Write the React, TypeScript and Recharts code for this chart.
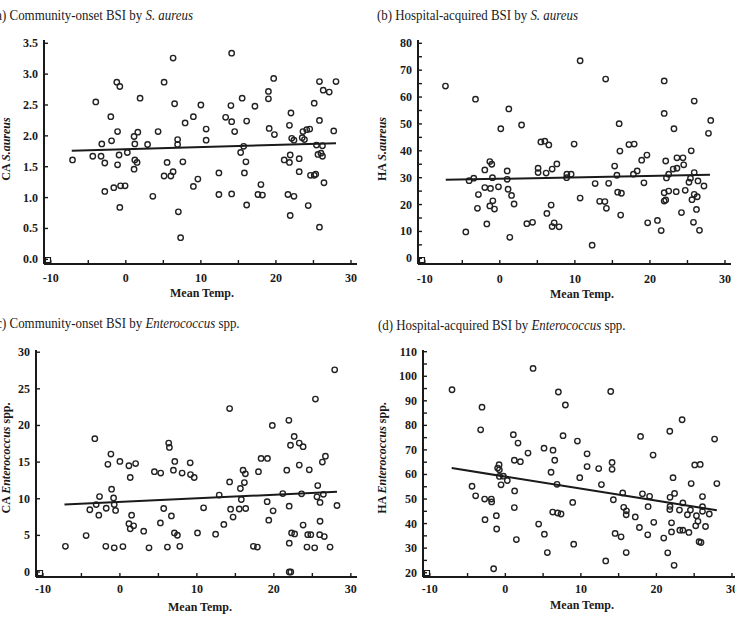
import React from "react";
import { ReferenceArea, Scatter, ScatterChart, XAxis, YAxis } from "recharts";

type Pt = [number, number];

const FONT = '"Liberation Serif", "Times New Roman", serif';
const INK = "#1a1a1a";

// shared x axis (mean temperature)
const X_DOMAIN: [number, number] = [-10.9, 30.8];
const X_TICKS = [-10, -5, 0, 5, 10, 15, 20, 25, 30];

// y ticks per panel
const A_TICKS = [0, 0.5, 1, 1.5, 2, 2.5, 3, 3.5];
const B_TICKS = [0, 5, 10, 15, 20, 25, 30, 35, 40, 45, 50, 55, 60, 65, 70, 75, 80];
const C_TICKS = [0, 5, 10, 15, 20, 25, 30];
const D_TICKS = [20, 25, 30, 35, 40, 45, 50, 55, 60, 65, 70, 75, 80, 85, 90, 95, 100, 105, 110];

// (a) CA S. aureus
const ptsA: Pt[] = [
  [-7.1, 1.61], [-4.4, 1.67], [-4.0, 2.55], [-3.3, 1.67], [-3.2, 1.87], [-2.8, 1.56], [-2.8, 1.1],
  [-2.0, 2.31], [-1.9, 1.92], [-1.6, 1.16], [-1.2, 2.87], [-1.1, 2.07], [-1.1, 1.53], [-0.9, 1.69],
  [-0.8, 2.8], [-0.8, 0.84], [-0.7, 1.19], [-0.1, 1.19], [0.2, 1.73], [1.1, 1.99], [1.2, 1.87],
  [1.2, 1.61], [1.5, 1.57], [1.1, 1.46], [1.6, 2.06], [1.9, 2.61], [2.9, 1.86], [3.6, 1.02],
  [4.3, 2.07], [5.1, 2.87], [5.1, 1.35], [5.5, 1.57], [6.0, 1.35], [6.3, 1.42], [6.3, 3.26],
  [6.5, 2.52], [6.9, 1.94], [6.9, 1.86], [7.0, 0.77], [7.3, 0.35], [7.6, 1.58], [7.9, 2.21],
  [9.0, 2.31], [9.6, 1.3], [9.0, 1.18], [10.0, 2.5], [10.7, 2.11], [10.7, 1.93], [12.4, 1.4],
  [12.4, 1.05], [13.3, 2.3], [14.0, 2.49], [14.1, 3.34], [14.1, 2.23], [14.1, 1.06], [14.5, 2.07],
  [15.3, 1.73], [15.5, 2.61], [15.7, 1.83], [15.8, 1.4], [16.0, 1.58], [16.1, 2.24], [16.1, 0.88],
  [17.2, 2.48], [17.6, 1.05], [18.0, 1.21], [18.2, 1.04], [19.0, 2.6], [19.0, 2.72], [19.1, 2.12],
  [19.7, 2.93], [19.8, 2.02], [21.1, 1.61], [21.6, 1.05], [21.8, 2.17], [21.8, 1.57], [21.9, 0.71],
  [22.0, 2.37], [21.9, 1.69], [22.1, 1.96], [22.4, 1.93], [22.4, 1.02], [23.1, 1.63], [23.1, 1.42],
  [23.5, 1.97], [23.6, 2.07], [23.8, 1.94], [24.1, 2.1], [24.5, 2.11], [24.3, 0.87], [24.6, 1.36],
  [25.1, 2.53], [25.1, 1.36], [25.3, 1.38], [25.4, 1.85], [25.6, 1.7], [25.8, 2.25], [25.8, 2.88],
  [25.8, 0.52], [26.0, 1.72], [26.2, 1.84], [26.2, 1.67], [26.3, 2.74], [26.4, 1.24], [27.1, 2.71],
  [27.7, 2.08], [28.0, 2.88],
];
const fitA: Pt[] = [[-7.2, 1.76], [28, 1.88]];

// (b) HA S. aureus
const ptsB: Pt[] = [
  [-7.24, 64.1], [-3.24, 59.2], [1.2, 55.6], [2.9, 49.6], [0.13, 48.2], [5.47, 43.3], [6.0, 43.6],
  [6.53, 42.2], [9.9, 42.5], [-1.33, 36.0], [-1.07, 35.0], [-2.0, 32.9], [0.98, 32.5], [5.1, 33.5],
  [5.1, 31.9], [6.17, 31.7], [6.97, 33.2], [7.6, 35.1], [8.93, 31.3], [9.5, 31.3], [8.9, 30.0],
  [-0.98, 30.0], [0.98, 29.4], [-4.09, 28.9], [-3.47, 29.8], [-2.0, 26.3], [-1.24, 26.0],
  [-0.18, 26.6], [1.1, 25.7], [1.56, 23.4], [-2.85, 23.7], [-0.93, 21.4], [-1.33, 19.5],
  [-0.71, 18.3], [-2.98, 18.6], [1.9, 20.2], [6.27, 16.7], [6.84, 19.8], [-4.53, 9.8], [-1.73, 12.8],
  [1.33, 7.8], [3.6, 12.9], [4.36, 13.4], [6.97, 11.8], [7.24, 13.2], [7.9, 11.7],
  [10.7, 73.5], [14.1, 66.7], [21.9, 66.0], [25.9, 58.5], [21.9, 53.9], [15.9, 50.1], [28.1, 51.3],
  [27.8, 46.5], [23.2, 48.2], [17.2, 42.3], [17.9, 42.5], [16.0, 39.9], [19.6, 38.4], [18.9, 36.5],
  [22.1, 36.2], [23.6, 37.4], [24.4, 37.4], [25.5, 40.0], [24.5, 34.8], [15.3, 34.3], [23.1, 33.2],
  [23.6, 33.5], [18.3, 32.5], [17.8, 31.3], [15.6, 30.9], [22.5, 31.3], [22.2, 29.9], [25.9, 31.9],
  [25.4, 29.8], [25.2, 28.3], [26.4, 28.8], [27.2, 26.9], [19.2, 28.1], [12.7, 27.8], [14.5, 27.9],
  [10.7, 22.4], [15.7, 24.6], [16.2, 24.2], [21.9, 24.4], [22.5, 25.0], [23.5, 24.8], [24.7, 25.3],
  [25.9, 23.8], [26.3, 22.9], [25.6, 21.8], [21.9, 21.3], [22.1, 21.7], [13.3, 21.2], [14.0, 21.1],
  [14.2, 18.6], [26.2, 18.2], [24.2, 17.0], [16.1, 16.1], [21.0, 14.1], [19.7, 13.2], [25.8, 13.4],
  [21.5, 10.3], [26.6, 10.4], [12.3, 4.9],
];
const fitB: Pt[] = [[-7.2, 29.2], [28, 31.1]];

// (c) CA Enterococcus spp.
const ptsC: Pt[] = [
  [-7.08, 3.5], [-4.39, 4.97], [-3.26, 18.2], [-3.91, 8.5], [-3.08, 9.2], [-2.65, 10.3], [-2.74, 7.76],
  [-1.78, 8.7], [-1.83, 3.5], [-1.56, 14.7], [-1.17, 16.1], [-1.08, 11.3], [-0.82, 10.1], [-0.74, 9.2],
  [-0.56, 8.4], [-0.74, 3.3], [0, 15.1], [0.39, 3.47], [1.17, 14.5], [1.34, 12.9], [2.04, 14.8],
  [1.52, 7.76], [1.17, 6.6], [1.34, 5.9], [1.78, 6.3], [3.09, 5.57], [3.78, 3.3], [4.48, 13.7],
  [5.3, 13.5], [5.69, 8.67], [5.26, 6.7], [6.34, 17.6], [6.43, 17.0], [7.13, 15.1], [6.95, 13.9],
  [6.69, 7.66], [7.08, 5.33], [7.47, 5.02], [7.78, 3.5], [6.17, 3.4], [8.08, 13.5], [9.13, 14.9],
  [9.17, 13.3], [9.65, 12.9], [10.08, 5.33],
  [10.87, 8.76], [12.43, 5.16], [12.9, 10.5], [13.5, 6.5], [14.25, 22.3], [14.25, 12.3], [14.38, 8.57],
  [14.7, 7.5], [15.5, 8.6], [15.77, 9.9], [15.65, 11.4], [16.17, 12.2], [16.0, 13.9], [16.3, 13.4],
  [16.34, 8.67], [17.34, 3.5], [17.86, 3.4], [18.0, 13.7], [18.34, 15.5], [19.17, 15.5], [19.13, 9.6],
  [19.34, 7.07], [19.9, 8.35], [19.8, 20.0], [21.95, 20.7], [21.68, 13.9], [21.16, 10.7], [21.99, 8.98],
  [22.64, 18.5], [22.16, 17.3], [23.3, 17.6], [23.8, 17.1], [23.3, 14.6], [24.6, 13.95], [23.6, 10.67],
  [22.3, 5.33], [22.7, 5.2], [22.0, 3.93], [22.0, 0.0], [22.2, 0.0], [23.8, 6.4], [24.4, 5.1],
  [24.8, 5.1], [24.3, 3.4], [25.4, 23.6], [25.7, 11.8], [25.6, 10.26], [26.0, 9.5], [26.3, 15.0],
  [26.7, 15.8], [26.43, 10.6], [26.0, 6.93], [25.95, 5.1], [26.55, 4.84], [25.3, 3.3], [27.3, 3.4],
  [27.9, 27.6], [28.2, 9.08],
];
const fitC: Pt[] = [[-7.2, 9.2], [28.2, 10.95]];

// (d) HA Enterococcus spp.
const ptsD: Pt[] = [
  [-7.06, 94.5], [-3.09, 87.4], [-3.27, 78.2], [-4.41, 55.2], [-3.93, 51.3], [-2.74, 50.0], [-1.85, 50.0],
  [-1.81, 48.8], [-2.69, 41.6], [-1.19, 43.2], [-1.15, 37.8], [-1.55, 21.6], [-0.83, 64.0], [-1.02, 62.6],
  [-0.79, 61.9], [-0.79, 59.2], [-0.26, 59.3], [0.26, 57.5], [-0.57, 55.8], [1.06, 76.2], [1.68, 72.8],
  [1.19, 65.8], [1.99, 65.2], [1.23, 53.3], [1.19, 46.5], [1.46, 33.5], [3.0, 68.7], [3.67, 103.2],
  [4.41, 39.8], [5.12, 70.7], [5.17, 35.7], [5.56, 28.2], [6.31, 69.9], [6.54, 65.8], [6.05, 60.9],
  [7.02, 93.6], [7.95, 88.3], [7.64, 75.8], [6.84, 56.0], [6.27, 44.7], [6.93, 44.3], [7.37, 43.9],
  [9.54, 73.6], [9.85, 58.7], [8.92, 48.6], [9.05, 31.6],
  [10.82, 68.4], [10.82, 63.2], [12.36, 62.4], [12.72, 55.9], [13.95, 93.8], [14.13, 64.9], [14.13, 62.1],
  [14.3, 49.7], [13.29, 24.8], [14.53, 36.0], [15.32, 34.6], [15.54, 52.5], [15.67, 46.6], [16.03, 45.2],
  [16.0, 43.6], [16.0, 28.2], [17.2, 42.7], [17.75, 38.4], [17.9, 75.5], [18.15, 52.1], [19.1, 51.1],
  [18.9, 46.9], [18.85, 35.4], [19.65, 40.5], [19.56, 67.9], [20.97, 34.1], [21.5, 28.1], [21.77, 77.6],
  [22.2, 58.7], [21.8, 50.7], [22.4, 52.3], [21.8, 47.0], [21.77, 45.7], [22.0, 40.3], [22.0, 36.6],
  [22.34, 23.0], [23.4, 82.3], [23.05, 45.5], [23.5, 48.4], [24.1, 43.6], [24.5, 45.5], [23.1, 37.3],
  [23.5, 37.3], [24.3, 36.4], [24.6, 56.3], [25.07, 63.9], [25.8, 64.1], [25.3, 43.2], [25.2, 39.1],
  [25.5, 40.9], [25.65, 32.6], [25.9, 32.3], [26.1, 51.0], [26.1, 46.9], [26.1, 45.0], [26.5, 38.8],
  [27.0, 43.9], [27.7, 74.4], [28.0, 56.3],
];
const fitD: Pt[] = [[-7.1, 62.6], [28, 45.4]];

const toRows = (pts: Pt[]) => pts.map(([x, y]) => ({ x, y }));

type PanelProps = {
  left: number;
  top: number;
  width: number;
  height: number;
  margin: { top: number; right: number; bottom: number; left: number };
  yWidth: number;
  xAxisH: number;
  yDomain: [number, number];
  yTicks: number[];
  yLabelStep: number;
  yDecimals: number;
  xLabelDy: number;
  points: Pt[];
  fit: Pt[];
};

function Panel(p: PanelProps) {
  const plotH = p.height - p.margin.top - p.margin.bottom - p.xAxisH;
  const plotW = p.width - p.margin.left - p.margin.right - p.yWidth;
  const ySpan = p.yDomain[1] - p.yDomain[0];
  const xSpan = X_DOMAIN[1] - X_DOMAIN[0];

  const xTick = (t: any) => {
    const v = t.payload.value as number;
    return (
      <g>
        <line x1={t.x} x2={t.x} y1={t.y} y2={t.y - 4} stroke={INK} strokeWidth={1.4} />
        {v % 10 === 0 && (
          <text x={t.x} y={t.y + p.xLabelDy} textAnchor="middle" fontFamily={FONT} fontWeight="bold" fontSize={12} fill={INK}>
            {v}
          </text>
        )}
      </g>
    );
  };

  const yTick = (t: any) => {
    const v = t.payload.value as number;
    const show = Math.abs(v / p.yLabelStep - Math.round(v / p.yLabelStep)) < 1e-6;
    return (
      <g>
        <line x1={t.x} x2={t.x + 4} y1={t.y} y2={t.y} stroke={INK} strokeWidth={1.4} />
        {show && (
          <text x={t.x - 6} y={t.y + 4} textAnchor="end" fontFamily={FONT} fontWeight="bold" fontSize={12} fill={INK}>
            {v.toFixed(p.yDecimals)}
          </text>
        )}
      </g>
    );
  };

  return (
    <div style={{ position: "absolute", left: p.left, top: p.top }}>
      <ScatterChart width={p.width} height={p.height} margin={p.margin}>
        <XAxis
          type="number"
          dataKey="x"
          domain={X_DOMAIN}
          ticks={X_TICKS}
          interval={0}
          allowDataOverflow
          height={p.xAxisH}
          tickSize={0}
          tickMargin={0}
          tickLine={false}
          tick={xTick}
          axisLine={{ stroke: INK, strokeWidth: 2 }}
        />
        <YAxis
          type="number"
          dataKey="y"
          domain={p.yDomain}
          ticks={p.yTicks}
          interval={0}
          allowDataOverflow
          width={p.yWidth}
          tickSize={0}
          tickMargin={0}
          tickLine={false}
          tick={yTick}
          axisLine={{ stroke: INK, strokeWidth: 2 }}
        />
        <ReferenceArea
          x1={X_DOMAIN[0] + (1.5 * xSpan) / plotW}
          x2={X_DOMAIN[0] + (6.5 * xSpan) / plotW}
          y1={p.yDomain[0] + (1.5 * ySpan) / plotH}
          y2={p.yDomain[0] + (6.5 * ySpan) / plotH}
          fill="#fff"
          fillOpacity={1}
          stroke={INK}
          strokeWidth={1.2}
        />
        <Scatter
          data={toRows(p.points)}
          isAnimationActive={false}
          shape={(s: any) => (
            <circle cx={s.cx} cy={s.cy} r={2.7} fill="none" stroke="#222" strokeWidth={1.4} />
          )}
        />
        <Scatter
          data={toRows(p.fit)}
          isAnimationActive={false}
          line={{ stroke: INK, strokeWidth: 2 }}
          lineType="joint"
          shape={() => <g />}
        />
      </ScatterChart>
    </div>
  );
}

const txt: React.CSSProperties = { position: "absolute", fontFamily: FONT, color: INK, whiteSpace: "nowrap" };

function Title({ x, y, children }: { x: number; y: number; children: React.ReactNode }) {
  return (
    <div style={{ ...txt, left: x, top: y, fontSize: 14.5, lineHeight: 1, transform: "translateY(-50%) scaleX(0.89)", transformOrigin: "left center" }}>
      {children}
    </div>
  );
}

function YTitle({ x, y, children }: { x: number; y: number; children: React.ReactNode }) {
  return (
    <div style={{ ...txt, left: x, top: y, fontSize: 12, fontWeight: "bold", lineHeight: 1, transform: "translate(-50%, -50%) rotate(-90deg)" }}>
      {children}
    </div>
  );
}

function XTitle({ x, y }: { x: number; y: number }) {
  return (
    <div style={{ ...txt, left: x, top: y, fontSize: 12, fontWeight: "bold", lineHeight: 1, transform: "translate(-50%, -50%)" }}>
      Mean Temp.
    </div>
  );
}

export default function App() {
  return (
    <div style={{ position: "absolute", left: 0, top: 0, width: 735, height: 625, overflow: "hidden", background: "#fff" }}>
      <Panel
        left={0} top={0} width={370} height={300}
        margin={{ top: 40, right: 13, bottom: 0, left: 0 }}
        yWidth={44} xAxisH={36} yDomain={[-0.076, 3.553]} yTicks={A_TICKS}
        yLabelStep={0.5} yDecimals={1} xLabelDy={17.5} points={ptsA} fit={fitA}
      />
      <Panel
        left={365} top={0} width={370} height={300}
        margin={{ top: 40, right: 4, bottom: 0, left: 0 }}
        yWidth={53} xAxisH={36} yDomain={[-2.12, 81.23]} yTicks={B_TICKS}
        yLabelStep={10} yDecimals={0} xLabelDy={18.5} points={ptsB} fit={fitB}
      />
      <Panel
        left={0} top={300} width={370} height={325}
        margin={{ top: 50, right: 13, bottom: 0, left: 0 }}
        yWidth={36} xAxisH={48} yDomain={[-0.68, 30.3]} yTicks={C_TICKS}
        yLabelStep={5} yDecimals={0} xLabelDy={16} points={ptsC} fit={fitC}
      />
      <Panel
        left={365} top={300} width={380} height={325}
        margin={{ top: 50, right: 7, bottom: 0, left: 0 }}
        yWidth={58} xAxisH={48} yDomain={[18.24, 110.7]} yTicks={D_TICKS}
        yLabelStep={10} yDecimals={0} xLabelDy={15.5} points={ptsD} fit={fitD}
      />

      <Title x={-8} y={15}>(a) Community-onset BSI by <i>S. aureus</i></Title>
      <Title x={377} y={15}>(b) Hospital-acquired BSI by <i>S. aureus</i></Title>
      <Title x={-8} y={323}>(c) Community-onset BSI by <i>Enterococcus</i> spp.</Title>
      <Title x={378} y={325}>(d) Hospital-acquired BSI by <i>Enterococcus</i> spp.</Title>

      <YTitle x={6} y={149}>CA <i>S.aureus</i></YTitle>
      <YTitle x={382} y={149}>HA <i>S.aureus</i></YTitle>
      <YTitle x={6} y={458}>CA <i>Enterococcus</i> spp.</YTitle>
      <YTitle x={382} y={458}>HA <i>Enterococcus</i> spp.</YTitle>

      <XTitle x={202} y={293} />
      <XTitle x={582} y={294} />
      <XTitle x={200} y={607} />
      <XTitle x={582} y={605} />
    </div>
  );
}
